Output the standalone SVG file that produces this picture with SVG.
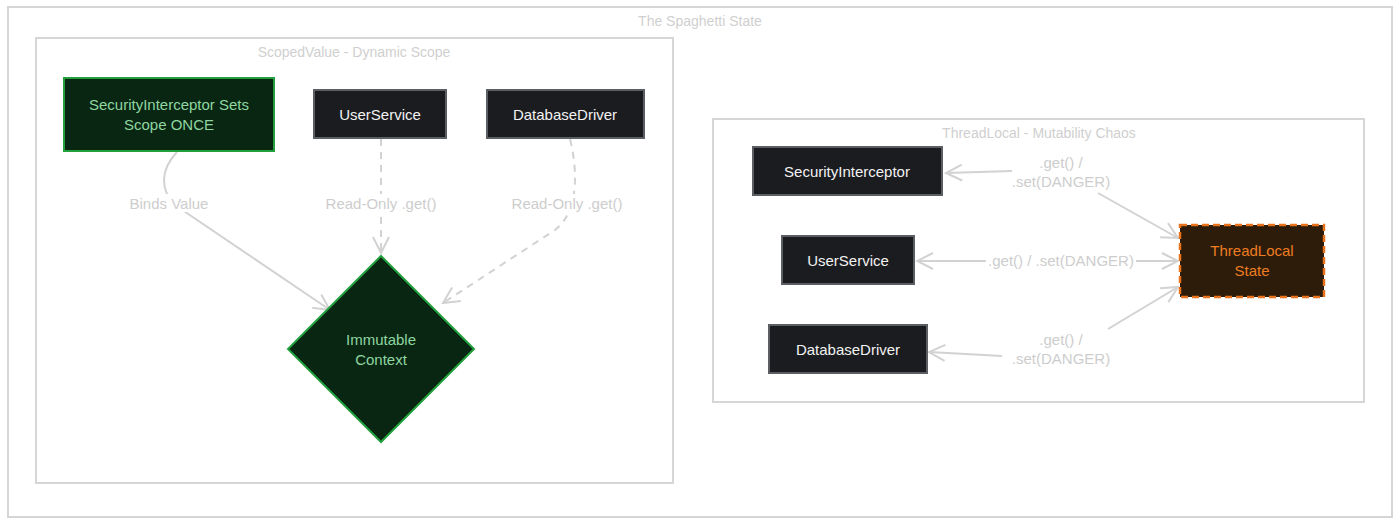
<svg xmlns="http://www.w3.org/2000/svg" width="1400" height="521" viewBox="0 0 1400 521">
<defs>
<style>
text{font-family:"Liberation Sans","DejaVu Sans",sans-serif;text-anchor:middle;dominant-baseline:central}
.frame{fill:#fff;stroke:#d6d6d6;stroke-width:2}
.ct{font-size:14px;fill:#cfcfcf}
.dark{fill:#1b1c1f;stroke:#5b5e63;stroke-width:2}
.dt{font-size:15px;fill:#f2f2f2}
.green{fill:#082612;stroke:#22a03c;stroke-width:2}
.gt{font-size:15px;fill:#8fd6a0}
.orange{fill:#2d1c0a;stroke:#e8731c;stroke-width:2.5;stroke-dasharray:7 4}
.ot{font-size:15px;fill:#ee7d22}
.edge{fill:none;stroke:#d2d2d2;stroke-width:2}
.dash{stroke-dasharray:7 6}
.el{font-size:15px;fill:#cdcdcd}
</style>
<marker id="ah" viewBox="0 0 20 20" refX="18" refY="10" markerWidth="20" markerHeight="20" markerUnits="userSpaceOnUse" orient="auto-start-reverse">
<path d="M2,2 L18,10 L2,18" fill="none" stroke="#d2d2d2" stroke-width="2"/>
</marker>
</defs>
<rect width="1400" height="521" fill="#fff"/>
<g id="cluster-outer">
<rect class="frame" x="8" y="7" width="1384" height="510"/>
<text class="ct" x="700" y="21">The Spaghetti State</text>
</g>
<g id="cluster-scoped">
<rect class="frame" x="36" y="38" width="637" height="445"/>
<text class="ct" x="354" y="52">ScopedValue - Dynamic Scope</text>
</g>
<g id="cluster-threadlocal">
<rect class="frame" x="713" y="119" width="651" height="283"/>
<text class="ct" x="1039" y="133">ThreadLocal - Mutability Chaos</text>
</g>
<g id="edges">
<path class="edge" d="M177,152 C160,170 160,190 175,205 L330,310" marker-end="url(#ah)"/>
<path class="edge dash" d="M381,139 L381,253" marker-end="url(#ah)"/>
<path class="edge dash" d="M570,139 C580,180 575,215 555,230 L443,303" marker-end="url(#ah)"/>
<path class="edge" d="M1012,171 L946,173" marker-end="url(#ah)"/>
<path class="edge" d="M1098,193 L1178,238" marker-end="url(#ah)"/>
<path class="edge" d="M917,261 L1178,261" marker-start="url(#ah)" marker-end="url(#ah)"/>
<path class="edge" d="M1002,356 L929,352" marker-end="url(#ah)"/>
<path class="edge" d="M1108,329 L1178,287" marker-end="url(#ah)"/>
<rect x="122" y="194" width="94" height="18" fill="#fff"/>
<text class="el" x="169" y="203">Binds Value</text>
<rect x="320" y="194" width="122" height="18" fill="#fff"/>
<text class="el" x="381" y="203">Read-Only .get()</text>
<rect x="506" y="194" width="122" height="18" fill="#fff"/>
<text class="el" x="567" y="203">Read-Only .get()</text>
<text class="el" x="1061" y="162">.get() /</text>
<text class="el" x="1061" y="181">.set(DANGER)</text>
<rect x="986" y="251" width="150" height="18" fill="#fff"/>
<text class="el" x="1061" y="260">.get() / .set(DANGER)</text>
<text class="el" x="1061" y="339">.get() /</text>
<text class="el" x="1061" y="358">.set(DANGER)</text>
</g>
<g id="node-sv-security">
<rect class="green" x="64" y="78" width="210" height="73"/>
<text class="gt" x="169" y="104">SecurityInterceptor Sets</text>
<text class="gt" x="169" y="124">Scope ONCE</text>
</g>
<g id="node-sv-userservice">
<rect class="dark" x="314" y="90" width="132" height="48"/>
<text class="dt" x="380" y="114">UserService</text>
</g>
<g id="node-sv-dbdriver">
<rect class="dark" x="487" y="90" width="157" height="48"/>
<text class="dt" x="565" y="114">DatabaseDriver</text>
</g>
<g id="node-context">
<polygon class="green" points="381,256 474,349 381,442 288,349"/>
<text class="gt" x="381" y="339">Immutable</text>
<text class="gt" x="381" y="359">Context</text>
</g>
<g id="node-tl-security">
<rect class="dark" x="753" y="147" width="189" height="48"/>
<text class="dt" x="847" y="171">SecurityInterceptor</text>
</g>
<g id="node-tl-userservice">
<rect class="dark" x="782" y="236" width="132" height="48"/>
<text class="dt" x="848" y="260">UserService</text>
</g>
<g id="node-tl-dbdriver">
<rect class="dark" x="769" y="325" width="158" height="48"/>
<text class="dt" x="848" y="349">DatabaseDriver</text>
</g>
<g id="node-threadlocal-state">
<rect class="orange" x="1180" y="225" width="144" height="72"/>
<text class="ot" x="1252" y="250">ThreadLocal</text>
<text class="ot" x="1252" y="270">State</text>
</g>
</svg>
